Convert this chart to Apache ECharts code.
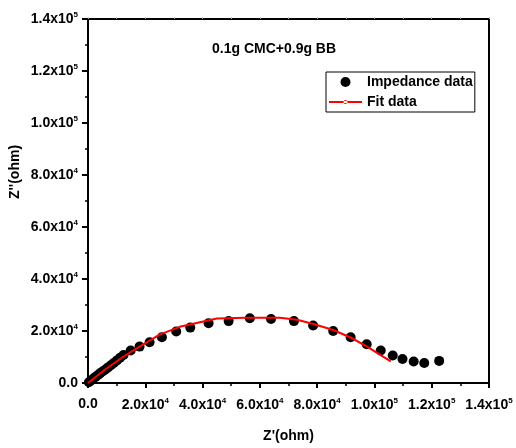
<!DOCTYPE html>
<html>
<head>
<meta charset="utf-8">
<script src="https://cdn.jsdelivr.net/npm/echarts@6/dist/echarts.min.js"></script>
<style>
html,body{margin:0;padding:0;background:#fff;}
#chart{width:516px;height:448px;}
</style>
</head>
<body>
<div id="chart"></div>
<script>
// Impedance data (Z', Z'')
var zReal = [300, 1100, 1900, 2700, 3500, 4300, 5200, 6100, 7000, 8000, 9000, 10100, 11200, 12400, 14900, 18000, 21500, 25800, 30800, 35700, 42100, 49100, 56500, 63900, 71900, 78600, 85600, 91700, 97300, 102200, 106400, 109800, 113700, 117400, 122600];
var zImag = [300, 1000, 1700, 2400, 3100, 3800, 4500, 5200, 6000, 6800, 7700, 8700, 9700, 10800, 12500, 14000, 15700, 17600, 19800, 21300, 23000, 23800, 24900, 24600, 23800, 22100, 20000, 17600, 14900, 12500, 10600, 9200, 8300, 7700, 8500];
// Fit data
var fitReal = [0, 6000, 12000, 18000, 25000, 32000, 45000, 55000, 67000, 73000, 79000, 85600, 91700, 97300, 101500, 105700];
var fitImag = [0, 5200, 9900, 14000, 18600, 21600, 24800, 25100, 25100, 24300, 22600, 20400, 17500, 14100, 11200, 8300];
// Tick labels
var xTickLabels = {0: '0.0', 20000: '2.0x10{s|4}', 40000: '4.0x10{s|4}', 60000: '6.0x10{s|4}', 80000: '8.0x10{s|4}', 100000: '1.0x10{s|5}', 120000: '1.2x10{s|5}', 140000: '1.4x10{s|5}'};
var yTickLabels = {0: '0.0', 20000: '2.0x10{s|4}', 40000: '4.0x10{s|4}', 60000: '6.0x10{s|4}', 80000: '8.0x10{s|4}', 100000: '1.0x10{s|5}', 120000: '1.2x10{s|5}', 140000: '1.4x10{s|5}'};
var titleText = '0.1g CMC+0.9g BB';
var seriesNames = ['Impedance data', 'Fit data'];
var xName = "Z'(ohm)";
var yName = "Z''(ohm)";

function pairs(a, b) { return a.map(function (v, i) { return [v, b[i]]; }); }

var FONT = 'Liberation Sans, Arial, sans-serif';
var rich = { s: { fontSize: 8, fontWeight: 'bold', fontFamily: FONT, color: '#000', verticalAlign: 'top', padding: [0, 0, 8, 0] } };

var chart = echarts.init(document.getElementById('chart'), null, { renderer: 'canvas' });
chart.setOption({
  backgroundColor: '#fff',
  animation: false,
  title: {
    text: titleText, left: 207, top: 37,
    textStyle: { fontFamily: FONT, fontWeight: 'bold', fontSize: 14, color: '#000' }
  },
  legend: {
    left: 326, top: 72,
    orient: 'vertical',
    borderColor: '#000', borderWidth: 1,
    padding: [3, 2, 3, 3],
    itemWidth: 33, itemHeight: 10, itemGap: 6,
    textStyle: { fontFamily: FONT, fontWeight: 'bold', fontSize: 14, color: '#000' },
    data: [
      { name: seriesNames[0], icon: 'circle' },
      { name: seriesNames[1], icon: 'path://M0,4 L33,4 L33,6 L0,6 Z M14.5,5 a2,2 0 1,0 4,0 a2,2 0 1,0 -4,0 Z' }
    ]
  },
  grid: { left: 88, right: 27, top: 19, bottom: 63 },
  xAxis: [{
    type: 'value', min: 0, max: 140000, interval: 20000,
    name: xName, nameLocation: 'middle', nameGap: 46,
    nameTextStyle: { fontFamily: FONT, fontWeight: 'bold', fontSize: 14, color: '#000' },
    axisLine: { onZero: false, lineStyle: { color: '#000', width: 2 } },
    axisTick: { inside: false, length: 5, lineStyle: { color: '#000', width: 2 } },
    minorTick: { show: true, splitNumber: 2, length: 3, lineStyle: { color: '#000', width: 1.5 } },
    splitLine: { show: false },
    axisLabel: {
      margin: 14, color: '#000', fontFamily: FONT, fontWeight: 'bold', fontSize: 14, rich: rich,
      formatter: function (v) { return xTickLabels[v] !== undefined ? xTickLabels[v] : ''; }
    }
  }, {
    type: 'value', min: 0, max: 140000, interval: 20000, position: 'top',
    axisLine: { onZero: false, lineStyle: { color: '#000', width: 2 } },
    axisTick: { show: true, length: 2, lineStyle: { color: '#bbb', width: 1 } },
    minorTick: { show: true, splitNumber: 2, length: 2, lineStyle: { color: '#bbb', width: 1 } },
    axisLabel: { show: false }, splitLine: { show: false }
  }],
  yAxis: [{
    type: 'value', min: 0, max: 140000, interval: 20000,
    axisLine: { onZero: false, lineStyle: { color: '#000', width: 2 } },
    axisTick: { inside: false, length: 6, lineStyle: { color: '#000', width: 2 } },
    minorTick: { show: true, splitNumber: 2, length: 3, lineStyle: { color: '#000', width: 1.5 } },
    splitLine: { show: false },
    axisLabel: {
      margin: 10, color: '#000', fontFamily: FONT, fontWeight: 'bold', fontSize: 14, rich: rich,
      formatter: function (v) { return yTickLabels[v] !== undefined ? yTickLabels[v] : ''; }
    }
  }, {
    type: 'value', min: 0, max: 140000, interval: 20000, position: 'right',
    axisLine: { show: true, onZero: false, lineStyle: { color: '#000', width: 2 } },
    axisTick: { show: false }, axisLabel: { show: false }, splitLine: { show: false }
  }],
  graphic: [{
    type: 'text', x: 15, y: 172, rotation: Math.PI / 2,
    style: { text: yName, fontFamily: FONT, fontWeight: 'bold', fontSize: 14, fill: '#000', textAlign: 'center', textVerticalAlign: 'middle' }
  }],
  series: [{
    name: seriesNames[0], type: 'scatter',
    data: pairs(zReal, zImag),
    symbol: 'circle', symbolSize: 10,
    itemStyle: { color: '#000', opacity: 1 }, z: 2
  }, {
    name: seriesNames[1], type: 'line',
    data: pairs(fitReal, fitImag),
    symbol: 'emptyCircle', symbolSize: 3, showSymbol: false,
    lineStyle: { color: '#ff0000', width: 2 },
    itemStyle: { color: '#ff0000' }, z: 3
  }]
});
</script>
</body>
</html>
